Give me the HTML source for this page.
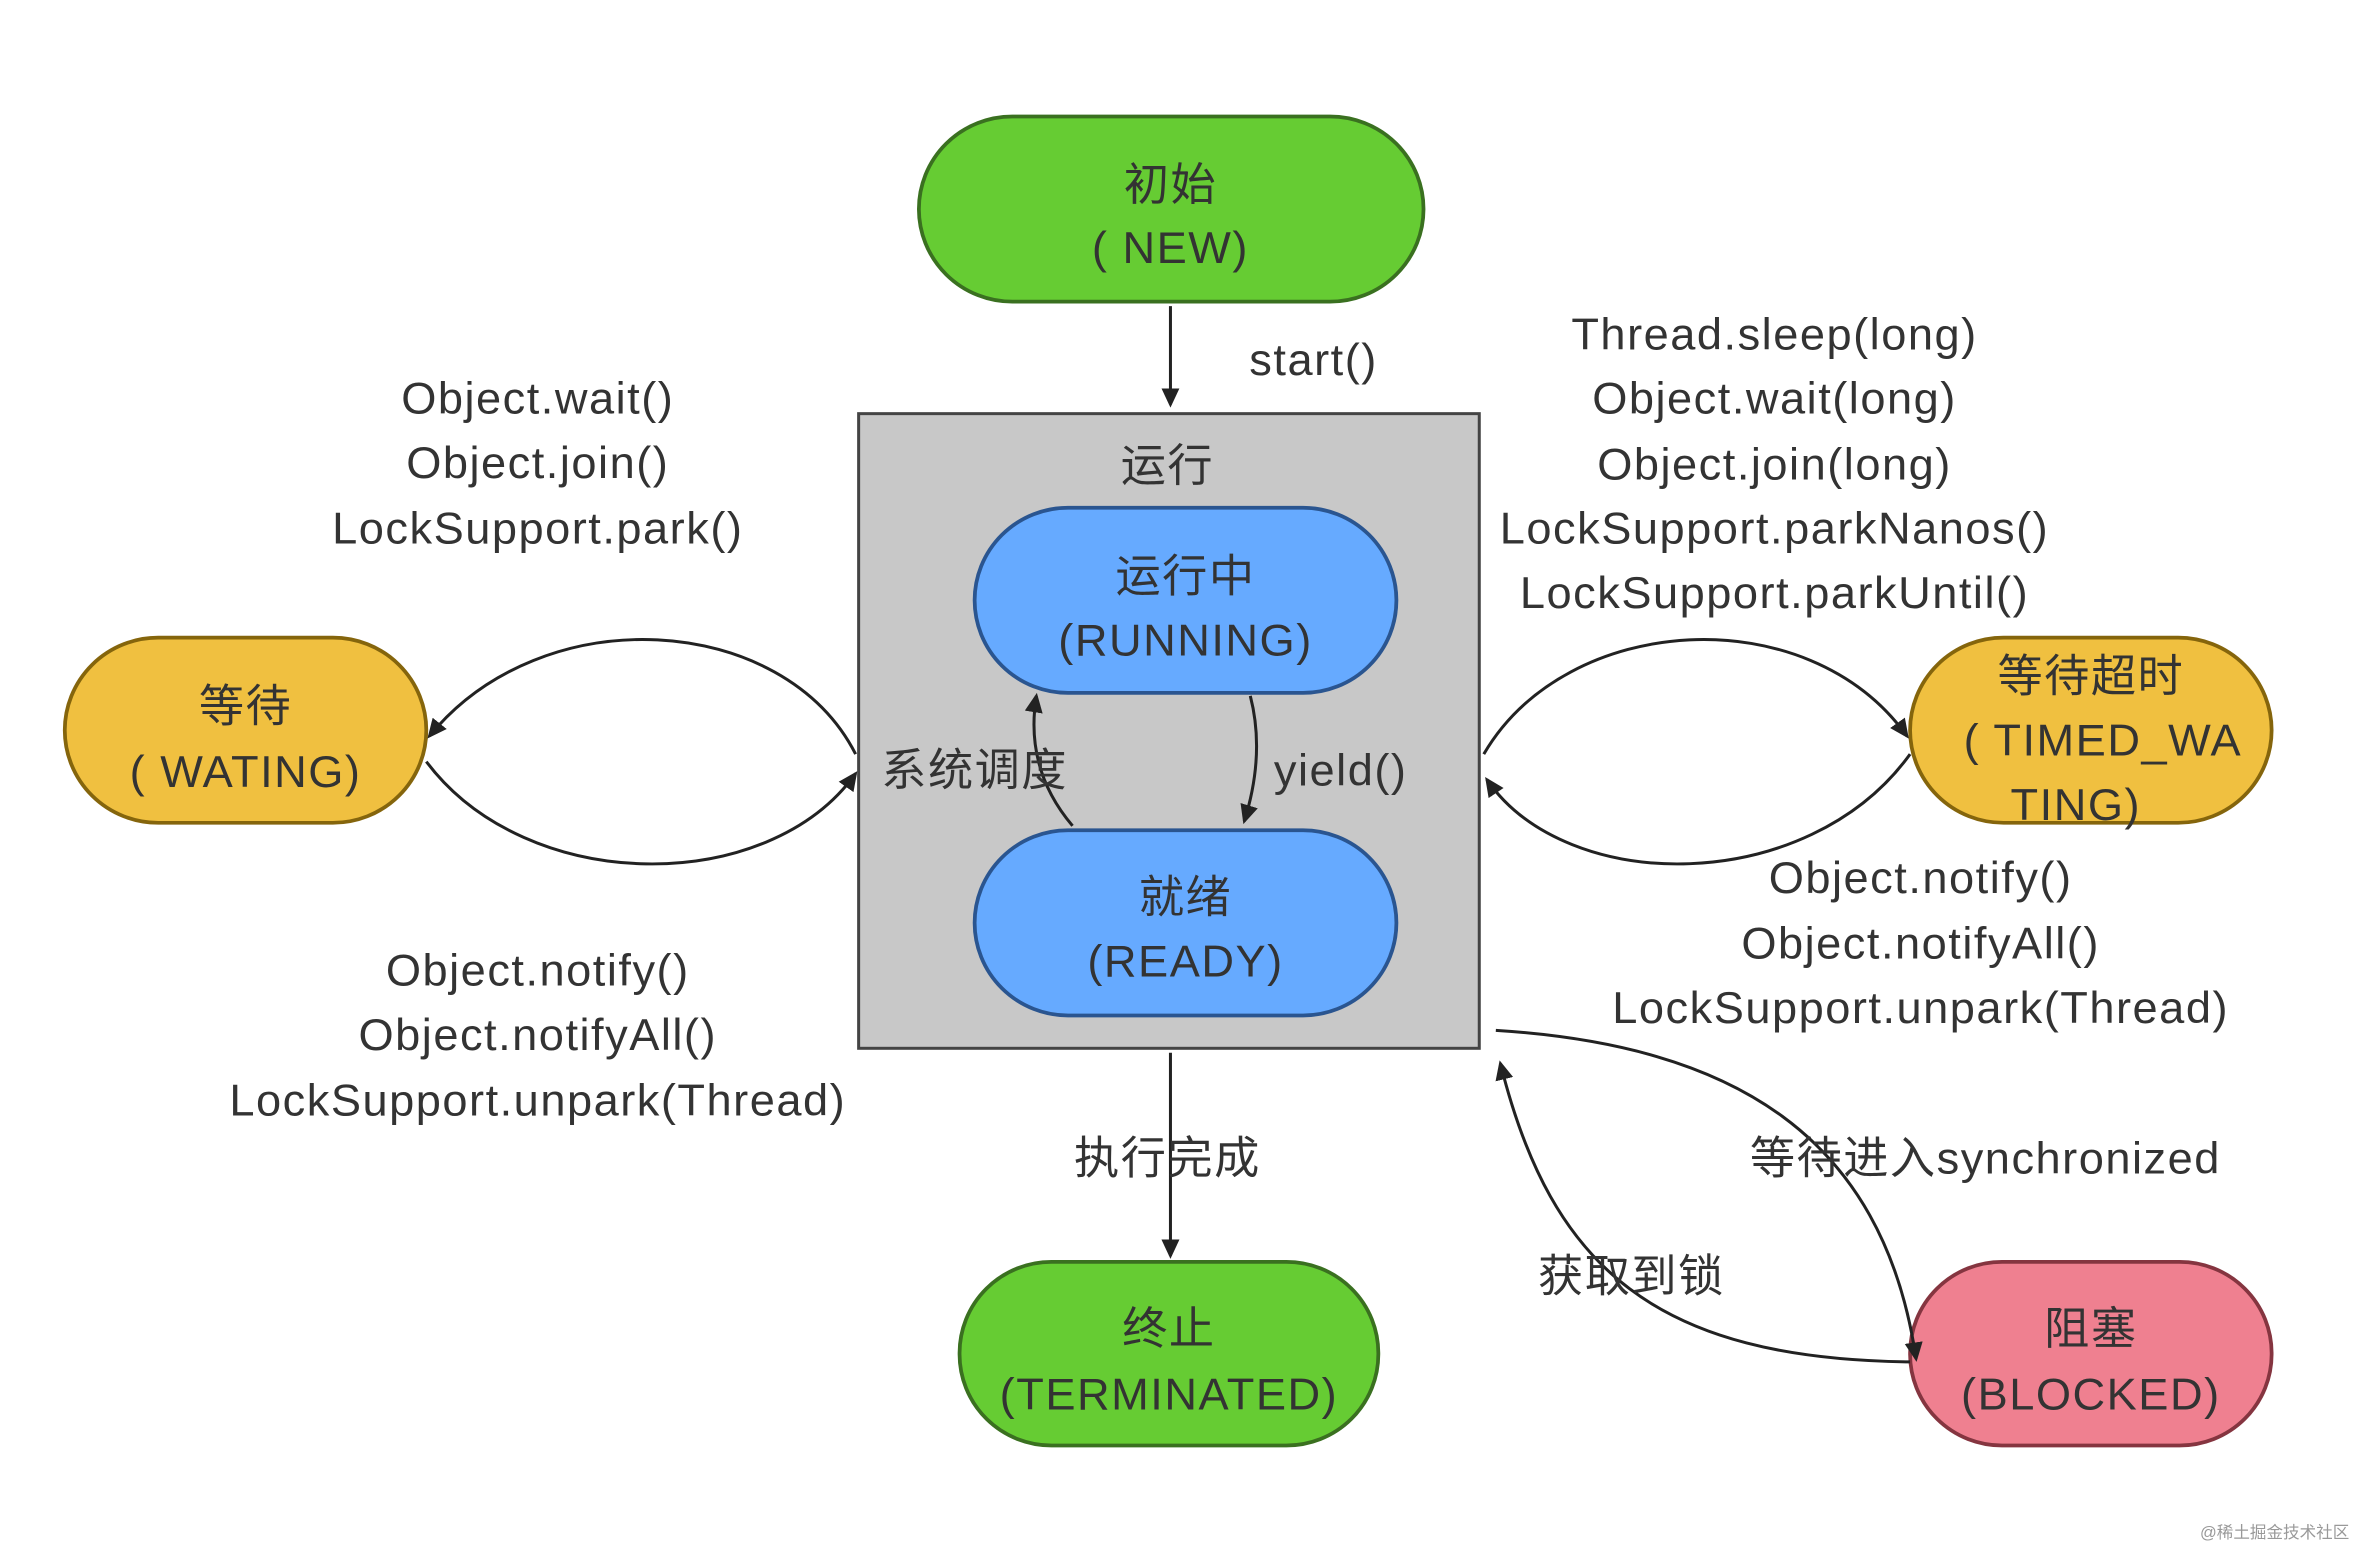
<!DOCTYPE html>
<html><head><meta charset="utf-8"><style>
html,body{margin:0;padding:0;background:#fff;}
svg{display:block;}
text{font-family:"Liberation Sans","Noto Sans CJK SC",sans-serif;fill:#333;font-size:30px;letter-spacing:1px;text-anchor:middle;}
</style></head><body>
<svg width="2362" height="1562" viewBox="0 0 1568 1046" preserveAspectRatio="none" xmlns="http://www.w3.org/2000/svg">
<defs>
<marker id="a" markerWidth="14" markerHeight="14" refX="11" refY="7" orient="auto" markerUnits="userSpaceOnUse" viewBox="0 0 14 14">
<path d="M0,1 L13,7 L0,13 z" fill="#222"/></marker>
</defs>
<rect width="1568" height="1046" fill="#fff"/>
<g transform="translate(0,0)">
<!-- NEW -->
<rect x="610" y="78" width="335" height="124" rx="62" fill="#66cc33" stroke="#3a7020" stroke-width="2.5"/>
<text x="777" y="134">初始</text><text x="777" y="176">( NEW)</text>
<line x1="777" y1="205" x2="777" y2="271" stroke="#222" stroke-width="2" marker-end="url(#a)"/>
<text x="872" y="251">start()</text>
<!-- box -->
<rect x="570" y="277" width="412" height="425" fill="#c8c8c8" stroke="#444" stroke-width="2"/>
<text x="775" y="322">运行</text>
<rect x="647" y="340" width="280" height="124" rx="62" fill="#66aaff" stroke="#2a5590" stroke-width="2.5"/>
<text x="787" y="396">运行中</text><text x="787" y="439">(RUNNING)</text>
<rect x="647" y="556" width="280" height="124" rx="62" fill="#66aaff" stroke="#2a5590" stroke-width="2.5"/>
<text x="787" y="611">就绪</text><text x="787" y="654">(READY)</text>
<path d="M830,466 Q840,505 826,550" fill="none" stroke="#222" stroke-width="2" marker-end="url(#a)"/>
<text x="890" y="526">yield()</text>
<path d="M712,553 Q680,515 688,466" fill="none" stroke="#222" stroke-width="2" marker-end="url(#a)"/>
<text x="647" y="526">系统调度</text>
<!-- WAITING -->
<rect x="43" y="427" width="240" height="124" rx="62" fill="#f0c040" stroke="#85650c" stroke-width="2.5"/>
<text x="163" y="483">等待</text><text x="163" y="527">( WATING)</text>
<path d="M568,505 C520,410 360,400 285,493" fill="none" stroke="#222" stroke-width="2" marker-end="url(#a)"/>
<path d="M283,510 C350,600 510,600 568,518" fill="none" stroke="#222" stroke-width="2" marker-end="url(#a)"/>
<text x="357" y="277">Object.wait()</text>
<text x="357" y="320">Object.join()</text>
<text x="357" y="364">LockSupport.park()</text>
<text x="357" y="660">Object.notify()</text>
<text x="357" y="703">Object.notifyAll()</text>
<text x="357" y="747">LockSupport.unpark(Thread)</text>
<!-- TIMED -->
<rect x="1268" y="427" width="240" height="124" rx="62" fill="#f0c040" stroke="#85650c" stroke-width="2.5"/>
<text x="1388" y="463">等待超时</text><text x="1396" y="506">( TIMED_WA</text><text x="1378" y="549">TING)</text>
<path d="M985,505 C1040,410 1200,400 1266,493" fill="none" stroke="#222" stroke-width="2" marker-end="url(#a)"/>
<path d="M1268,505 C1200,600 1040,600 987,522" fill="none" stroke="#222" stroke-width="2" marker-end="url(#a)"/>
<text x="1178" y="234">Thread.sleep(long)</text>
<text x="1178" y="277">Object.wait(long)</text>
<text x="1178" y="321">Object.join(long)</text>
<text x="1178" y="364">LockSupport.parkNanos()</text>
<text x="1178" y="407">LockSupport.parkUntil()</text>
<text x="1275" y="598">Object.notify()</text>
<text x="1275" y="642">Object.notifyAll()</text>
<text x="1275" y="685">LockSupport.unpark(Thread)</text>
<!-- TERMINATED -->
<line x1="777" y1="705" x2="777" y2="841" stroke="#222" stroke-width="2" marker-end="url(#a)"/>
<text x="775" y="786">执行完成</text>
<rect x="637" y="845" width="278" height="123" rx="61" fill="#66cc33" stroke="#3a7020" stroke-width="2.5"/>
<text x="776" y="900">终止</text><text x="776" y="944">(TERMINATED)</text>
<!-- BLOCKED -->
<rect x="1268" y="845" width="240" height="123" rx="61" fill="#ef8090" stroke="#853540" stroke-width="2.5"/>
<text x="1388" y="900">阻塞</text><text x="1388" y="944">(BLOCKED)</text>
<path d="M993,690 C1150,700 1250,760 1272,910" fill="none" stroke="#222" stroke-width="2" marker-end="url(#a)"/>
<text x="1318" y="786">等待进入synchronized</text>
<path d="M1268,912 C1100,910 1030,850 996,712" fill="none" stroke="#222" stroke-width="2" marker-end="url(#a)"/>
<text x="1083" y="865">获取到锁</text>
<text x="1510" y="1030" style="font-size:11px;fill:#999;letter-spacing:0">@稀土掘金技术社区</text>
</g>
</svg>
</body></html>
